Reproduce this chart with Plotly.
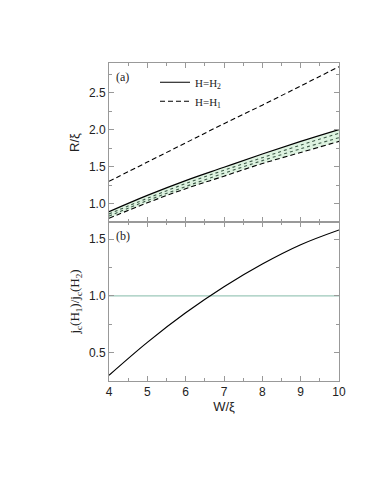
import plotly.graph_objects as go
from plotly.subplots import make_subplots

w = [4, 5, 6, 7, 8, 9, 10]
# panel (a): R/xi
r_h1_upper = [1.30, 1.56, 1.82, 2.08, 2.33, 2.59, 2.85]
r_h2 = [0.89, 1.11, 1.31, 1.49, 1.67, 1.84, 2.00]
r_dot_a = [0.86, 1.07, 1.27, 1.45, 1.62, 1.79, 1.95]
r_dot_b = [0.83, 1.04, 1.23, 1.41, 1.58, 1.74, 1.89]
r_h1_lower = [0.80, 1.01, 1.20, 1.37, 1.54, 1.69, 1.84]
# panel (b): jc ratio
jc_ratio = [0.30, 0.59, 0.85, 1.08, 1.28, 1.45, 1.58]
ref_level = [1.0, 1.0]
ref_w = [4, 10]

fig = make_subplots(rows=2, cols=1, shared_xaxes=True, vertical_spacing=0)

# green band (filled between solid and lower dashed)
fig.add_trace(go.Scatter(x=w, y=r_h2, mode="lines", line=dict(color="black", width=1.2, shape="spline"),
                         name="H=H<sub>2</sub>"), row=1, col=1)
fig.add_trace(go.Scatter(x=w, y=r_h1_lower, mode="lines", fill="tonexty", fillcolor="rgba(200,235,205,0.6)",
                         line=dict(color="black", width=1.1, dash="5px,3px", shape="spline"),
                         showlegend=False), row=1, col=1)
fig.add_trace(go.Scatter(x=w, y=r_dot_a, mode="lines", line=dict(color="#3d5a48", width=1.1, dash="dot", shape="spline"),
                         showlegend=False), row=1, col=1)
fig.add_trace(go.Scatter(x=w, y=r_dot_b, mode="lines", line=dict(color="#3d5a48", width=1.1, dash="dot", shape="spline"),
                         showlegend=False), row=1, col=1)
fig.add_trace(go.Scatter(x=w, y=r_h1_upper, mode="lines", line=dict(color="black", width=1.1, dash="5px,3px", shape="spline"),
                         name="H=H<sub>1</sub>"), row=1, col=1)

fig.add_trace(go.Scatter(x=ref_w, y=ref_level, mode="lines", line=dict(color="#9cc8ba", width=1.2),
                         showlegend=False), row=2, col=1)
fig.add_trace(go.Scatter(x=w, y=jc_ratio, mode="lines", line=dict(color="black", width=1.2, shape="spline"),
                         showlegend=False), row=2, col=1)

axis_style = dict(showline=True, linecolor="#999", linewidth=1, mirror="ticks", ticks="inside",
                  tickcolor="#999", ticklen=5, showgrid=False, zeroline=False,
                  tickfont=dict(family="Liberation Sans, Arial", size=12, color="#222"))

fig.update_xaxes(range=[4, 10], dtick=1, minor=dict(dtick=0.5, ticks="inside", ticklen=3, tickcolor="#999"),
                 **axis_style)
fig.update_xaxes(showticklabels=False, row=1, col=1)
fig.update_xaxes(title=dict(text="W/ξ", font=dict(family="Liberation Sans, Arial", size=13, color="#222"), standoff=2),
                 row=2, col=1)

fig.update_yaxes(range=[0.75, 2.9], dtick=0.5, tickformat=".1f",
                 minor=dict(dtick=0.25, ticks="inside", ticklen=3, tickcolor="#999"),
                 title=dict(text="R/ξ", font=dict(family="Liberation Sans, Arial", size=13, color="#222"), standoff=6),
                 row=1, col=1, **axis_style)
fig.update_yaxes(range=[0.25, 1.65], dtick=0.5, tickformat=".1f",
                 minor=dict(dtick=0.25, ticks="inside", ticklen=3, tickcolor="#999"),
                 title=dict(text="j<sub>c</sub>(H<sub>1</sub>)/j<sub>c</sub>(H<sub>2</sub>)",
                            font=dict(family="Liberation Serif, Times New Roman", size=13, color="#222"), standoff=6),
                 row=2, col=1, **axis_style)

fig.add_annotation(x=0.02, y=0.985, xref="paper", yref="paper", text="(a)", showarrow=False,
                   xanchor="left", yanchor="top", font=dict(family="Liberation Serif, Times New Roman", size=12, color="#222"))
fig.add_annotation(x=0.02, y=0.485, xref="paper", yref="paper", text="(b)", showarrow=False,
                   xanchor="left", yanchor="top", font=dict(family="Liberation Serif, Times New Roman", size=12, color="#222"))

fig.update_layout(
    width=383, height=495,
    margin=dict(l=101, r=52, t=55, b=122),
    paper_bgcolor="white", plot_bgcolor="white",
    legend=dict(x=0.2, y=0.985, xanchor="left", yanchor="top", bgcolor="rgba(0,0,0,0)",
                traceorder="normal",
                font=dict(family="Liberation Serif, Times New Roman", size=11, color="#222"),
                itemwidth=30, tracegroupgap=0),
)

fig.write_html("out.html")
